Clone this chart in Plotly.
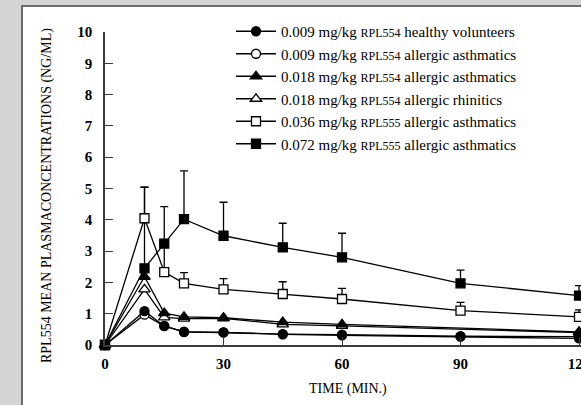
import plotly.graph_objects as go

# Sampling times (min)
t = [0, 10, 15, 20, 30, 45, 60, 90, 120]

# Mean plasma concentrations (ng/mL)
healthy_009 = [0, 1.08, 0.61, 0.41, 0.40, 0.34, 0.31, 0.27, 0.21]
asthma_009 = [0, 0.97, 0.60, 0.43, 0.40, 0.35, 0.33, 0.28, 0.27]
asthma_018 = [0, 2.18, 1.02, 0.90, 0.87, 0.73, 0.66, None, 0.42]
rhinitis_018 = [0, 1.78, 0.88, 0.84, 0.85, 0.66, 0.61, None, 0.40]
asthma_036 = [0, 4.05, 2.33, 1.97, 1.78, 1.63, 1.47, 1.10, 0.90]
asthma_072 = [0, 2.45, 3.24, 4.02, 3.49, 3.12, 2.80, 1.97, 1.58]

# Upper error (SD) for the RPL555 groups
err_036 = [0, 0.99, 1.00, 0.34, 0.34, 0.39, 0.34, 0.26, 0.22]
err_072 = [0, 2.59, 1.18, 1.54, 1.07, 0.77, 0.77, 0.42, 0.32]

x_ticks = [0, 30, 60, 90, 120]
y_ticks = list(range(0, 11))

SERIF = "Liberation Serif"
INK = "#000000"
AXIS = "#3a3a3a"


def lbl(dose, drug, group):
    return f"{dose} mg/kg <span style='font-size:12px'>{drug}</span> {group}"


series = [
    # (name, values, symbol, legend rank)
    (lbl("0.009", "RPL554", "allergic asthmatics"), asthma_009, "circle-open", 2),
    (lbl("0.009", "RPL554", "healthy volunteers"), healthy_009, "circle", 1),
    (lbl("0.018", "RPL554", "allergic rhinitics"), rhinitis_018, "triangle-up-open", 4),
    (lbl("0.018", "RPL554", "allergic asthmatics"), asthma_018, "triangle-up", 3),
    (lbl("0.036", "RPL555", "allergic asthmatics"), asthma_036, "square-open", 5),
    (lbl("0.072", "RPL555", "allergic asthmatics"), asthma_072, "square", 6),
]

fig = go.Figure()

# Upper-only error bars, drawn beneath the markers
for vals, err in [(asthma_036, err_036), (asthma_072, err_072)]:
    fig.add_trace(go.Scatter(
        x=t, y=vals, mode="markers",
        marker=dict(size=1, color="rgba(0,0,0,0)"),
        error_y=dict(type="data", symmetric=False, array=err,
                     arrayminus=[0] * len(err), color=INK,
                     thickness=1.3, width=4),
        showlegend=False, hoverinfo="skip", cliponaxis=False,
    ))

for name, vals, sym, rank in series:
    is_open = sym.endswith("-open")
    size = 9 if "triangle" not in sym else 10
    fig.add_trace(go.Scatter(
        x=t, y=vals, name=name, mode="lines+markers",
        connectgaps=True, cliponaxis=False, legendrank=rank,
        line=dict(color=INK, width=1.3),
        marker=dict(symbol=sym.replace("-open", "") if is_open else sym,
                    size=size,
                    color="white" if is_open else INK,
                    line=dict(color=INK, width=1.3)),
    ))

# Plot-area geometry in pixels
L, T, W, H = 105, 32, 476, 313

fig.update_layout(
    width=581, height=405,
    margin=dict(l=L, r=581 - L - W, t=T, b=405 - T - H, autoexpand=False),
    paper_bgcolor="#d4d4d4",
    plot_bgcolor="white",
    font=dict(family=SERIF, color=INK),
    showlegend=True,
    legend=dict(
        x=(231 - L) / W, y=(345 - 15) / H, xanchor="left", yanchor="top",
        bgcolor="rgba(0,0,0,0)", borderwidth=0,
        font=dict(family=SERIF, size=15, color=INK),
        itemwidth=40, tracegroupgap=0,
    ),
    shapes=[dict(
        type="rect", xref="paper", yref="paper", layer="below",
        x0=(22 - L) / W, x1=1.2, y0=-0.4, y1=(345 - 6) / H,
        line=dict(color="#6b6b6b", width=2), fillcolor="white",
    )],
    annotations=[
        dict(text="TIME (MIN.)", xref="paper", yref="paper",
             x=(348 - L) / W, y=(345 - 389) / H, showarrow=False,
             font=dict(family=SERIF, size=14, color=INK),
             xanchor="center", yanchor="middle"),
        dict(text="RPL554 MEAN PLASMACONCENTRATIONS (NG/ML)",
             xref="paper", yref="paper",
             x=(47 - L) / W, y=(345 - 196) / H, showarrow=False,
             textangle=-90,
             font=dict(family=SERIF, size=14, color=INK),
             xanchor="center", yanchor="middle"),
    ],
)

fig.update_xaxes(
    range=[0, 120.5], tickvals=x_ticks, ticktext=[str(v) for v in x_ticks],
    showgrid=False, zeroline=False, showline=True, linecolor=AXIS, linewidth=1.5,
    ticks="inside", ticklen=8, tickwidth=1.3, tickcolor=AXIS,
    tickfont=dict(family=SERIF, size=15, color=INK, weight="bold"),
    ticklabelstandoff=4, ticklabeloverflow="allow", automargin=False,
)
fig.update_yaxes(
    range=[0, 10], tickvals=y_ticks, ticktext=[str(v) for v in y_ticks],
    showgrid=False, zeroline=False, showline=True, linecolor=AXIS, linewidth=1.5,
    ticks="inside", ticklen=8, tickwidth=1.3, tickcolor=AXIS,
    tickfont=dict(family=SERIF, size=15, color=INK, weight="bold"),
    ticklabelstandoff=8, automargin=False,
)

fig.write_html("out.html")
